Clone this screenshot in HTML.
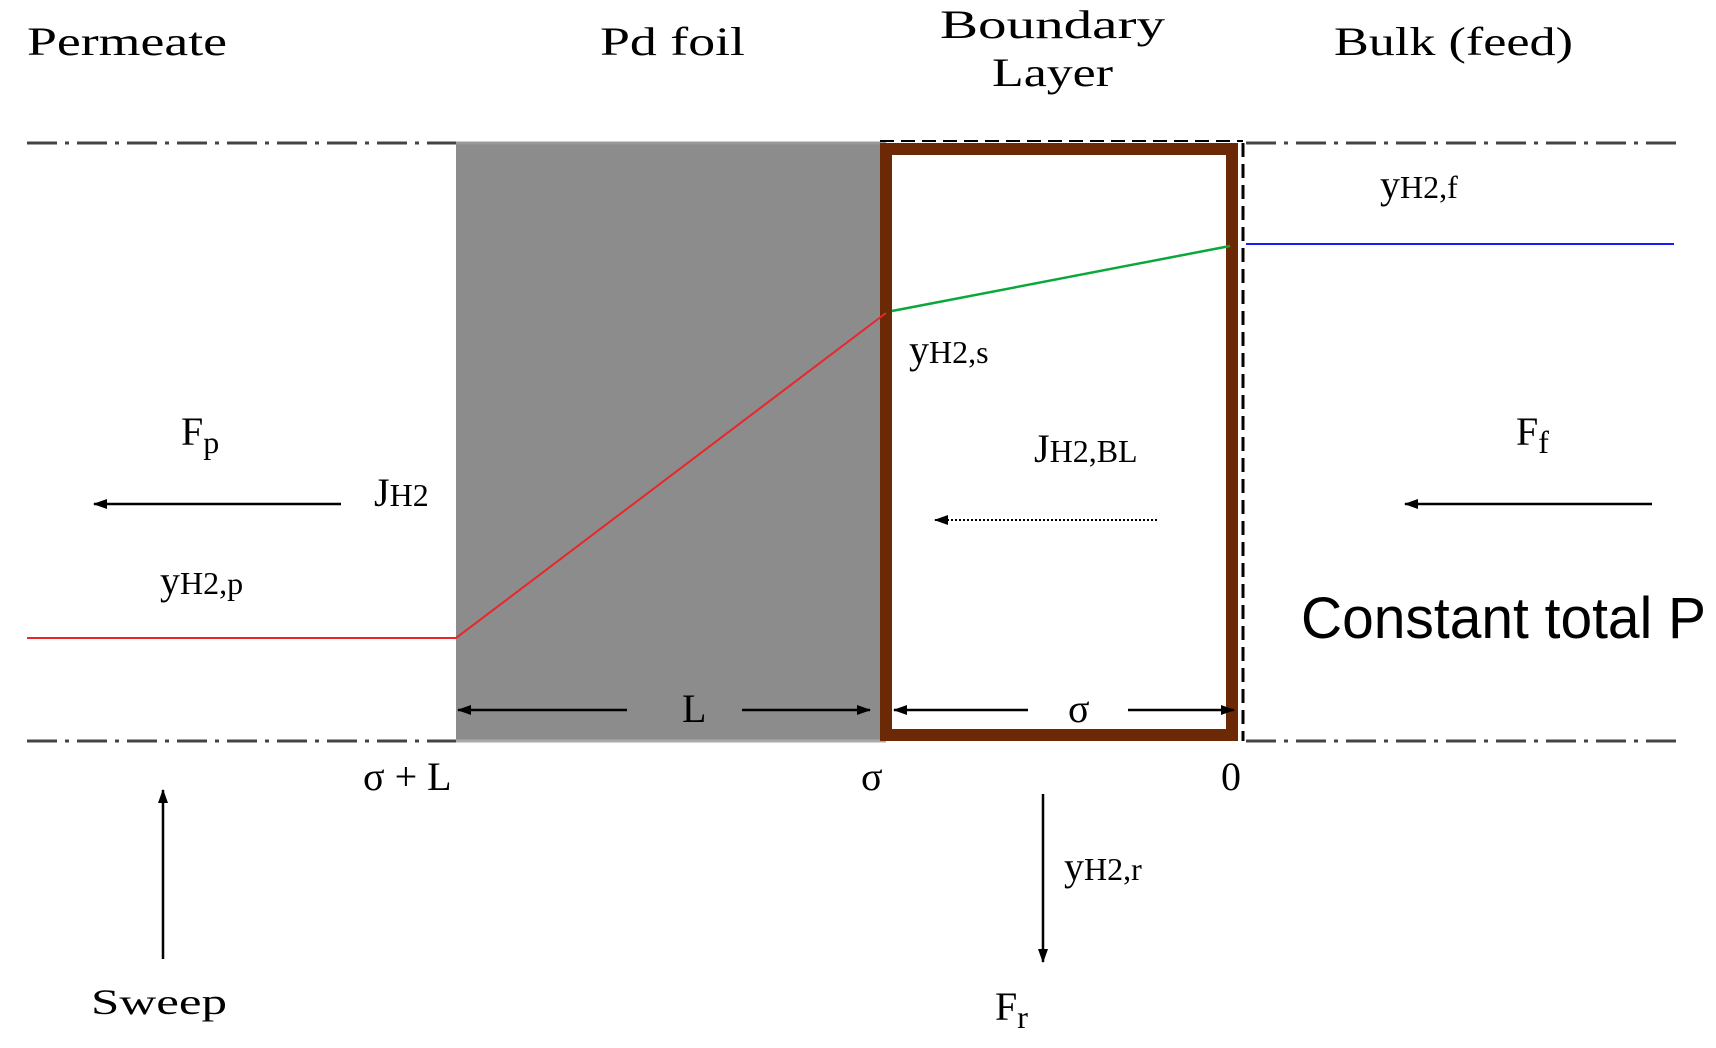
<!DOCTYPE html>
<html><head><meta charset="utf-8"><style>
body{margin:0;background:#fff;}
svg{display:block;}
text{font-family:"Liberation Serif",serif;fill:#000;}
</style></head><body>
<svg width="1716" height="1048" viewBox="0 0 1716 1048" xmlns="http://www.w3.org/2000/svg">
<defs>
<marker id="ah" markerWidth="14" markerHeight="12" refX="13" refY="6" orient="auto" markerUnits="userSpaceOnUse" viewBox="0 0 14 12">
<path d="M0,1 L14,6 L0,11 Z" fill="#000"/></marker>
</defs>
<rect x="456" y="143" width="430" height="598" fill="#8c8c8c"/>
<g stroke="#444" stroke-width="3" stroke-dasharray="30,8,4,8" fill="none">
<line x1="27" y1="143" x2="456" y2="143"/>
<line x1="1246" y1="143" x2="1678" y2="143"/>
<line x1="27" y1="741" x2="456" y2="741"/>
<line x1="1246" y1="741" x2="1678" y2="741"/>
</g>
<line x1="456" y1="143" x2="886" y2="143" stroke="#999" stroke-width="3"/>
<line x1="456" y1="741" x2="886" y2="741" stroke="#aaa" stroke-width="3"/>
<line x1="1243" y1="143" x2="1243" y2="741" stroke="#000" stroke-width="3" stroke-dasharray="14,7"/>
<line x1="880" y1="141" x2="1243" y2="141" stroke="#000" stroke-width="2" stroke-dasharray="14,7"/>
<rect x="886" y="149" width="346" height="586" fill="none" stroke="#6b2a05" stroke-width="12"/>
<polyline points="27,638 456,638 886,313" fill="none" stroke="#e8262b" stroke-width="2"/>
<line x1="892" y1="311" x2="1230" y2="246" stroke="#0aa83a" stroke-width="2.5"/>
<line x1="1246" y1="244" x2="1674" y2="244" stroke="#1a1aff" stroke-width="2"/>
<g stroke="#000" stroke-width="2.5" marker-end="url(#ah)">
<line x1="341" y1="504" x2="94" y2="504"/>
<line x1="1652" y1="504" x2="1405" y2="504"/>
<line x1="627" y1="710" x2="458" y2="710"/>
<line x1="742" y1="710" x2="870" y2="710"/>
<line x1="1028" y1="710" x2="894" y2="710"/>
<line x1="1128" y1="710" x2="1234" y2="710"/>
<line x1="163" y1="959" x2="163" y2="790"/>
<line x1="1043" y1="794" x2="1043" y2="962"/>
</g>
<line x1="1157" y1="520" x2="935" y2="520" stroke="#000" stroke-width="2" stroke-dasharray="2,2" marker-end="url(#ah)"/>
<g font-size="40">
<text x="27" y="55" textLength="200" lengthAdjust="spacingAndGlyphs">Permeate</text>
<text x="600" y="55" textLength="145" lengthAdjust="spacingAndGlyphs">Pd foil</text>
<text x="940" y="38" textLength="225" lengthAdjust="spacingAndGlyphs">Boundary</text>
<text x="992" y="86" textLength="121" lengthAdjust="spacingAndGlyphs">Layer</text>
<text x="1334" y="55" textLength="239" lengthAdjust="spacingAndGlyphs">Bulk (feed)</text>
<text x="1380" y="198">y<tspan font-size="32">H2,f</tspan></text>
<text x="909" y="363">y<tspan font-size="32">H2,s</tspan></text>
<text x="181" y="445">F<tspan font-size="32" dy="8">p</tspan></text>
<text x="374" y="506">J<tspan font-size="32">H2</tspan></text>
<text x="160" y="594">y<tspan font-size="32">H2,p</tspan></text>
<text x="1034" y="462">J<tspan font-size="32">H2,BL</tspan></text>
<text x="1516" y="445">F<tspan font-size="32" dy="8">f</tspan></text>
<text x="682" y="722">L</text>
<text x="1068" y="722">σ</text>
<text x="363" y="790">σ + L</text>
<text x="861" y="790">σ</text>
<text x="1221" y="790">0</text>
<text x="1064" y="880">y<tspan font-size="32">H2,r</tspan></text>
<text x="995" y="1020">F<tspan font-size="32" dy="8">r</tspan></text>
<text x="91" y="1014" font-size="36" textLength="136" lengthAdjust="spacingAndGlyphs">Sweep</text>
</g>
<text x="1301" y="638" font-size="58" style="font-family:'Liberation Sans Narrow','Liberation Sans',sans-serif" textLength="405" lengthAdjust="spacingAndGlyphs">Constant total P</text>
</svg>
</body></html>
